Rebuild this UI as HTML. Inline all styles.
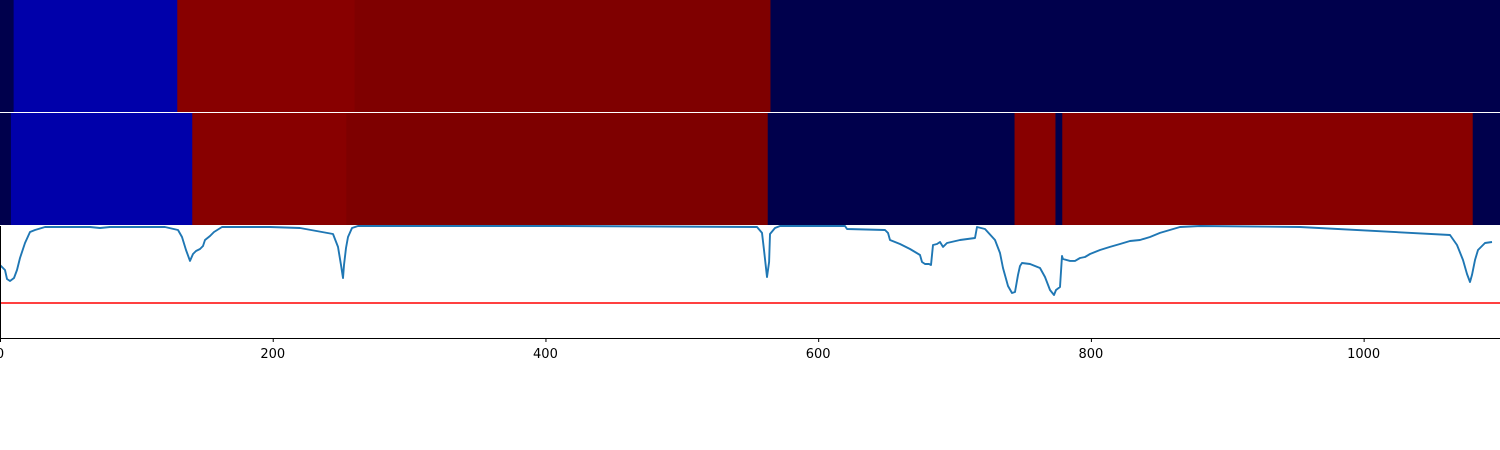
<!DOCTYPE html>
<html><head><meta charset="utf-8"><style>
html,body{margin:0;padding:0;background:#fff;width:1500px;height:450px;overflow:hidden}
svg{display:block}
text{font-family:"DejaVu Sans","Liberation Sans",sans-serif;font-size:13px;fill:#000}
</style></head><body>
<svg id="chart" width="1500" height="450"></svg>
<script>
// Heatmap rows: segment boundaries (data x) and cell colours
const row1Edges = [0, 10, 130, 260, 565, 1100];
const row1Colors = ["#00004c", "#0000aa", "#880000", "#7f0000", "#00004c"];
const row2Edges = [0, 8, 141, 254, 563, 744, 774, 779, 1080, 1100];
const row2Colors = ["#00004c", "#0000aa", "#880000", "#7e0000", "#00004c", "#880000", "#00004c", "#880000", "#00004c"];
// Line series
const lineX = [0,3.7,5.1,7.3,10.3,12.5,14.7,18.3,22,25.7,33,44,66,73.3,80.7,121,130.5,133.5,136.4,139.3,141.5,143.7,146.7,148.9,150.3,154,156.9,162.8,183.3,198,220,244.2,247.9,250.1,251.5,252.3,253.7,255.2,258.1,262.5,267.7,410.7,555.1,558.8,560.3,562.5,564,564.7,568.3,572,619.7,621.1,649,651.2,652.7,660,667.3,674.7,676.1,678.3,681.3,682.7,684.2,687.1,689.3,691.5,694.5,704,715,716.5,722.3,729.7,733.3,735.5,739.2,742.1,744.3,746.5,748,749.5,755.3,762.7,766.3,770,772.9,774.4,777.3,778.8,779.5,784.7,788.3,792,795.7,799.3,806.7,814,821.3,828.7,836,843.3,850.7,865.3,880,953.3,1063.3,1068.5,1072.9,1075.8,1078,1079.5,1081.7,1083.9,1089,1094.1,1100];
const lineY = [0.652,0.607,0.527,0.509,0.536,0.607,0.714,0.848,0.946,0.964,0.991,0.991,0.991,0.982,0.991,0.991,0.964,0.902,0.786,0.688,0.75,0.777,0.795,0.821,0.875,0.911,0.946,0.991,0.991,0.991,0.982,0.929,0.813,0.652,0.536,0.652,0.804,0.902,0.982,1,1,1,0.991,0.938,0.786,0.545,0.679,0.929,0.982,1,1,0.973,0.964,0.938,0.875,0.839,0.795,0.741,0.679,0.661,0.661,0.652,0.83,0.839,0.857,0.813,0.848,0.875,0.893,0.991,0.973,0.875,0.759,0.625,0.464,0.402,0.411,0.563,0.643,0.67,0.661,0.625,0.545,0.429,0.384,0.429,0.455,0.732,0.705,0.688,0.688,0.714,0.723,0.75,0.786,0.813,0.839,0.866,0.875,0.902,0.938,0.991,1,0.991,0.92,0.83,0.696,0.571,0.5,0.563,0.696,0.786,0.848,0.857];
const thresholdY = [0.3125];
const xTicks = [0, 200, 400, 600, 800, 1000];

const svg = document.getElementById('chart');
const NS = 'http://www.w3.org/2000/svg';
const X0 = 0, X1 = 1500, DMAX = 1100;
const xs = v => X0 + v / DMAX * (X1 - X0);
const PT = 226, PB = 338;
const ys = v => PB - v * (PB - PT);
function mk(tag, attrs) { const e = document.createElementNS(NS, tag); for (const k in attrs) e.setAttribute(k, attrs[k]); svg.appendChild(e); return e; }

function drawRow(edges, colors, top, h, name) {
  for (let i = 0; i < colors.length; i++) {
    const r = mk('rect', {x: xs(edges[i]), y: top, width: xs(edges[i+1]) - xs(edges[i]) + 0.5, height: h, fill: colors[i]});
    
    
  }
}
drawRow(row1Edges, row1Colors, 0, 112, 'heatmap-row-1');
drawRow(row2Edges, row2Colors, 113, 112, 'heatmap-row-2');

// threshold line
const th = mk('line', {x1: 0, x2: 1500, y1: ys(thresholdY[0]), y2: ys(thresholdY[0]), stroke: '#ff0000', 'stroke-width': 1.5});



// series line
const pts = lineX.map((x, i) => xs(x).toFixed(1) + ',' + ys(lineY[i]).toFixed(1)).join(' ');
const pl = mk('polyline', {points: pts, fill: 'none', stroke: '#1f77b4', 'stroke-width': 1.9, 'stroke-linejoin': 'round'});



// axes
const ax = mk('line', {x1: 0, x2: 1500, y1: PB + 0.5, y2: PB + 0.5, stroke: '#000', 'stroke-width': 1});


const ay = mk('line', {x1: 0.5, x2: 0.5, y1: PT, y2: PB, stroke: '#000', 'stroke-width': 1});


xTicks.forEach(t => {
  const tk = mk('line', {x1: xs(t) + 0.5, x2: xs(t) + 0.5, y1: PB, y2: PB + 4, stroke: '#000', 'stroke-width': 1});
  
  
  const tx = mk('text', {x: xs(t), y: PB + 20, 'text-anchor': 'middle'});
  tx.textContent = t;
  
  
});
</script>
</body></html>
